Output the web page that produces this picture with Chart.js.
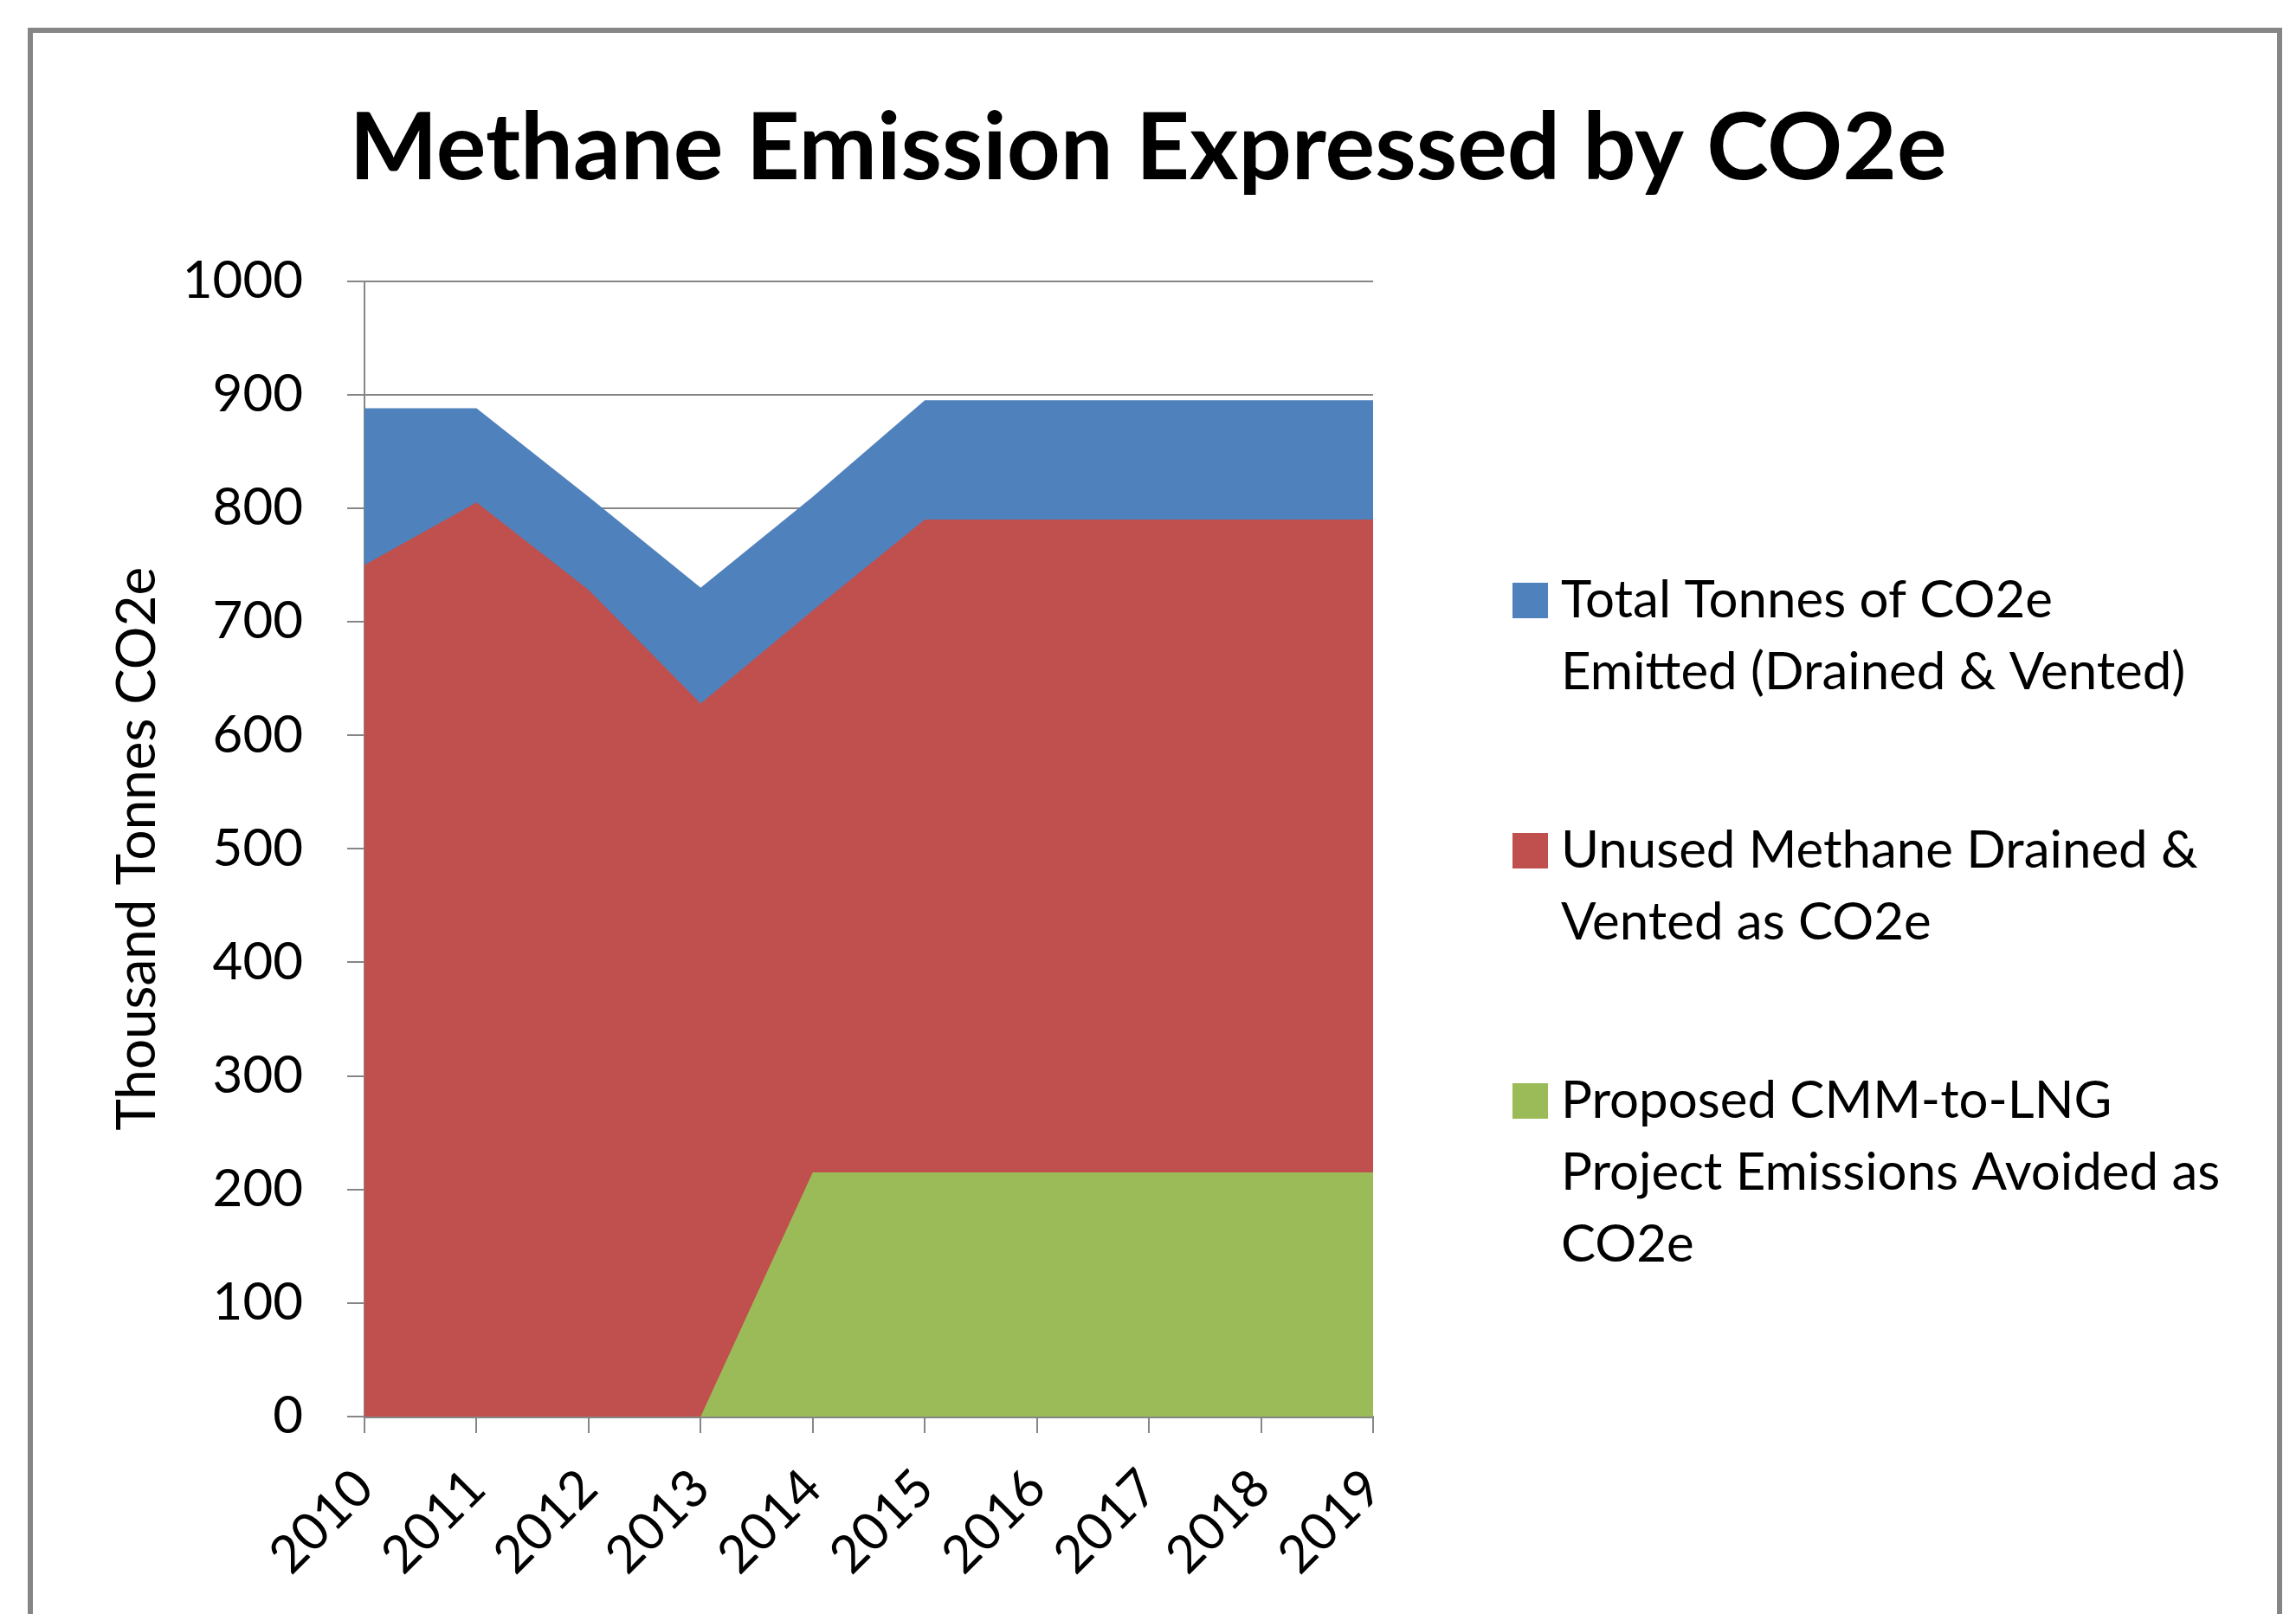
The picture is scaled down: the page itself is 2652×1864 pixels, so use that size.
<!DOCTYPE html>
<html>
<head>
<meta charset="utf-8">
<title>Methane Emission Expressed by CO2e</title>
<script src="https://cdn.jsdelivr.net/npm/chart.js@4.4.0/dist/chart.umd.min.js"></script>
<style>
    html, body { margin: 0; padding: 0; background: #fff; overflow: hidden; }
    #box { position: relative; width: 2652px; height: 1864px; }
    #frame {
        position: absolute; left: 32px; top: 32px;
        width: 2592px; height: 1900px;
        border: 6px solid #868686; pointer-events: none;
    }
</style>
</head>
<body>
<div id="box">
    <canvas id="myChart" width="2652" height="1864"></canvas>
    <div id="frame"></div>
</div>
<script>
const years = ['2010', '2011', '2012', '2013', '2014', '2015', '2016', '2017', '2018', '2019'];

// thousand tonnes CO2e
const totalEmitted = [888, 888, 810, 730, 810, 895, 895, 895, 895, 895];
const unusedVented = [750, 805, 728, 628, 710, 790, 790, 790, 790, 790];
const projectAvoided = [0, 0, 0, 0, 215, 215, 215, 215, 215, 215];

const yTicks = [0, 100, 200, 300, 400, 500, 600, 700, 800, 900, 1000];

const seriesNames = [
    'Total Tonnes of CO2e Emitted (Drained & Vented)',
    'Unused Methane Drained & Vented as CO2e',
    'Proposed CMM-to-LNG Project Emissions Avoided as CO2e'
];
const legendLines = [
    ['Total Tonnes of CO2e', 'Emitted (Drained & Vented)'],
    ['Unused Methane Drained &', 'Vented as CO2e'],
    ['Proposed CMM-to-LNG', 'Project Emissions Avoided as', 'CO2e']
];

const FONT = 'Lato';
const GREY = '#868686';

// legend on the right, one block per series, lines wrapped like the original
const sideLegend = {
    id: 'sideLegend',
    afterDraw(chart) {
        const ctx = chart.ctx;
        ctx.save();
        ctx.font = '60px ' + FONT;
        ctx.textBaseline = 'middle';
        ctx.textAlign = 'left';
        chart.data.datasets.forEach((ds, i) => {
            const y0 = 694 + i * 289;
            ctx.fillStyle = ds.backgroundColor;
            ctx.fillRect(1747, y0 - 21, 41, 41);
            ctx.fillStyle = '#000';
            legendLines[i].forEach((line, j) => {
                ctx.fillText(line, 1803, y0 + j * 83);
            });
        });
        ctx.restore();
    }
};

function draw() {
    const ctx = document.getElementById('myChart').getContext('2d');

    const myChart = new Chart(ctx, { // eslint-disable-line
        type: 'line',
        data: {
            labels: years,
            datasets: [
                {
                    label: seriesNames[0],
                    data: totalEmitted,
                    backgroundColor: '#4F81BD',
                    fill: 'origin',
                    order: 3
                },
                {
                    label: seriesNames[1],
                    data: unusedVented,
                    backgroundColor: '#C0504D',
                    fill: 'origin',
                    order: 2
                },
                {
                    label: seriesNames[2],
                    data: projectAvoided,
                    backgroundColor: '#9BBB59',
                    fill: 'origin',
                    order: 1
                }
            ]
        },
        options: {
            responsive: false,
            animation: false,
            events: [],
            elements: {
                line: { borderWidth: 0, tension: 0 },
                point: { radius: 0 }
            },
            layout: {
                padding: 0
            },
            plugins: {
                legend: { display: false },
                tooltip: { enabled: false },
                title: {
                    display: true,
                    text: 'Methane Emission Expressed by CO2e',
                    color: '#000',
                    font: { family: FONT, size: 108, weight: 'bold' },
                    padding: { top: 107, bottom: 88 }
                }
            },
            scales: {
                x: {
                    offset: false,
                    ticks: {
                        color: '#000',
                        font: { family: FONT, size: 60 },
                        minRotation: 45,
                        maxRotation: 45,
                        autoSkip: false,
                        padding: 28
                    },
                    grid: {
                        drawOnChartArea: false,
                        color: GREY,
                        lineWidth: 2,
                        tickLength: 19
                    },
                    border: { color: GREY, width: 3 },
                    afterFit: (s) => { s.height = 228; }
                },
                y: {
                    min: 0,
                    max: 1000,
                    afterBuildTicks: (s) => { s.ticks = yTicks.map(v => ({ value: v })); },
                    ticks: {
                        color: '#000',
                        font: { family: FONT, size: 60 },
                        padding: 51,
                        callback: (v) => String(v)
                    },
                    grid: {
                        color: GREY,
                        lineWidth: 2,
                        tickLength: 20
                    },
                    border: { color: GREY, width: 2 },
                    title: {
                        display: true,
                        text: 'Thousand Tonnes CO2e',
                        color: '#000',
                        font: { family: FONT, size: 62 },
                        padding: { top: 122, bottom: 0 }
                    },
                    afterFit: (s) => { s.width = 421; }
                },
                // empty box on the right that keeps room for the legend
                side: {
                    type: 'linear',
                    position: 'right',
                    ticks: { display: false },
                    grid: { display: false },
                    border: { display: false },
                    afterFit: (s) => { s.width = 1066; }
                }
            }
        },
        plugins: [sideLegend]
    });
}

document.fonts.load('60px ' + FONT).then(draw, draw);
</script>
</body>
</html>
